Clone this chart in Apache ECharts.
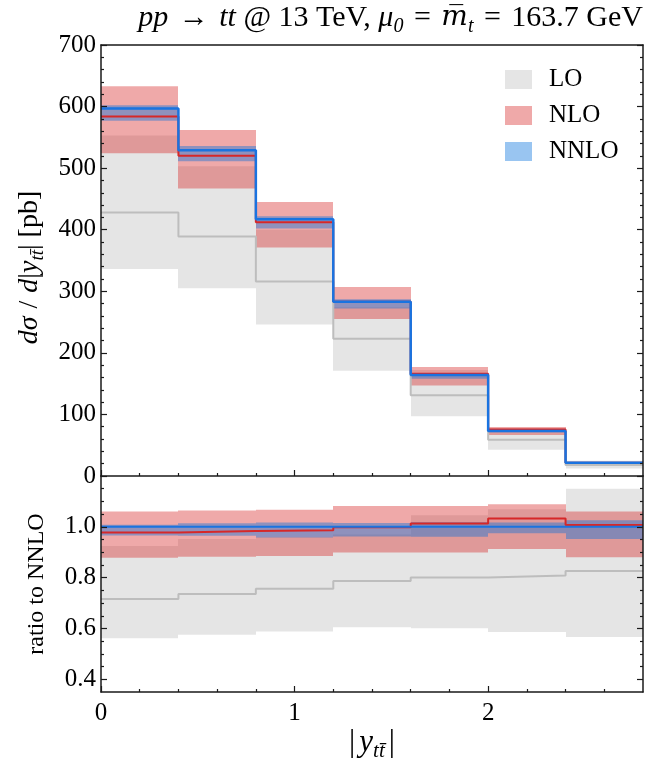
<!DOCTYPE html>
<html>
<head>
<meta charset="utf-8">
<script src="https://cdn.jsdelivr.net/npm/echarts@6/dist/echarts.min.js"></script>
<style>
  html, body { margin: 0; padding: 0; background: #ffffff; }
  #chart { width: 647px; height: 767px; }
</style>
</head>
<body>
<div id="chart"></div>
<script>
// Bin edges in |y_tt|
const binEdges = [0, 0.4, 0.8, 1.2, 1.6, 2.0, 2.4, 2.8];
const xMajorTicks = [0, 1, 2];
const xMinorTicks = [0.2, 0.4, 0.6, 0.8, 1.2, 1.4, 1.6, 1.8, 2.2, 2.4, 2.6];
const ratioMajorTicks = [0.4, 0.6, 0.8, 1.0];
const ratioMinorTicks = [0.45, 0.5, 0.55, 0.65, 0.7, 0.75, 0.85, 0.9, 0.95, 1.05, 1.1, 1.15];

// Differential cross section per bin [pb]
const loCentral   = [428, 389, 316, 223, 131, 59.0, 17.8];
const loUpper     = [553, 503, 400, 274, 172, 78.0, 24.7];
const loLower     = [336, 305, 246, 171, 97.0, 42.5, 12.2];
const nloCentral  = [584, 520, 412, 283, 166, 75.4, 21.7];
const nloUpper    = [633, 562, 445, 307, 177, 79.5, 22.8];
const nloLower    = [524, 467, 371, 255, 147, 66.6, 18.9];
const nnloCentral = [597, 529, 417, 283, 164, 73.0, 21.5];
const nnloUpper   = [602, 536, 422, 287, 167, 74.2, 22.1];
const nnloLower   = [577, 511, 402, 272, 158, 71.2, 20.5];

// Ratios to the NNLO central value
const loRatio       = [0.716, 0.736, 0.756, 0.787, 0.801, 0.808, 0.826];
const loRatioUp     = [0.925, 0.952, 0.960, 0.970, 1.046, 1.069, 1.150];
const loRatioDown   = [0.562, 0.575, 0.588, 0.605, 0.601, 0.586, 0.566];
const nloRatio      = [0.978, 0.984, 0.987, 0.998, 1.013, 1.033, 1.007];
const nloRatioUp    = [1.060, 1.064, 1.067, 1.082, 1.082, 1.089, 1.060];
const nloRatioDown  = [0.878, 0.882, 0.885, 0.899, 0.899, 0.913, 0.880];
const nnloRatio     = [1, 1, 1, 1, 1, 1, 1];
const nnloRatioUp   = [1.008, 1.014, 1.017, 1.015, 1.018, 1.017, 1.026];
const nnloRatioDown = [0.966, 0.965, 0.958, 0.962, 0.961, 0.975, 0.952];

const FONT = 'Liberation Serif';
const AXIS_COLOR = '#1a1a1a';
const COLORS = {
  loBand: 'rgba(0,0,0,0.10)',
  nloBand: 'rgba(214,39,40,0.40)',
  nnloBand: 'rgba(0,110,220,0.40)',
  loLine: '#bdbdbd',
  nloLine: '#d62728',
  nnloLine: '#1a73e0'
};

// Scale-band drawn as one rectangle per bin (x snapped to whole pixels so adjacent bins join cleanly)
function bandSeries(name, lower, upper, color, xi, yi) {
  const data = lower.map((v, i) => [binEdges[i], binEdges[i + 1], v, upper[i]]);
  return {
    type: 'custom', name: name, xAxisIndex: xi, yAxisIndex: yi, data: data,
    itemStyle: { color: color }, silent: true, clip: true, z: 2,
    encode: { x: [0, 1], y: [2, 3] },
    renderItem: function (params, api) {
      const p0 = api.coord([api.value(0), api.value(3)]);
      const p1 = api.coord([api.value(1), api.value(2)]);
      const x0 = Math.round(p0[0]), x1 = Math.round(p1[0]);
      return {
        type: 'rect',
        shape: { x: x0, y: p0[1], width: x1 - x0, height: p1[1] - p0[1] },
        style: { fill: color }
      };
    }
  };
}

// Central value drawn as a histogram step line
function stepSeries(name, vals, color, width, xi, yi, z) {
  const data = binEdges.map((x, i) => [x, vals[Math.min(i, vals.length - 1)]]);
  return {
    type: 'line', name: name, step: 'end', data: data, symbol: 'none',
    lineStyle: { color: color, width: width }, xAxisIndex: xi, yAxisIndex: yi,
    silent: true, clip: true, z: z
  };
}

const lineStyle = { color: AXIS_COLOR, width: 1.5 };
const tickStyle = { color: AXIS_COLOR, width: 1.2 };

function frameAxis(extra) {
  return Object.assign({
    type: 'value', splitLine: { show: false },
    axisLine: { show: true, onZero: false, lineStyle: lineStyle },
    axisTick: { show: false }, axisLabel: { show: false }, z: 10
  }, extra);
}
function tickAxis(extra, values, len) {
  return Object.assign({
    type: 'value', splitLine: { show: false },
    axisLine: { show: false, onZero: false },
    axisTick: { show: true, inside: true, length: len, customValues: values, lineStyle: tickStyle },
    axisLabel: { show: false }, z: 10
  }, extra);
}

// Rich-text styles for the math-style labels
function mathRich(size, subSize, gap) {
  return {
    r: { fontFamily: FONT, fontSize: size, fontStyle: 'normal', lineHeight: size + 7, fill: '#000' },
    i: { fontFamily: FONT, fontSize: size, fontStyle: 'italic', lineHeight: size + 7, fill: '#000' },
    s: { fontFamily: FONT, fontSize: subSize, fontStyle: 'italic', lineHeight: subSize, verticalAlign: 'bottom', fill: '#000' },
    m: { fontFamily: 'DejaVu Serif', fontSize: size - 2, fontStyle: 'italic', lineHeight: size + 7, fill: '#000' },
    g: { fontFamily: FONT, fontSize: size, lineHeight: size + 7, width: gap }
  };
}

const xRange = { min: 0, max: 2.8 };

const option = {
  animation: false,
  backgroundColor: '#ffffff',
  textStyle: { fontFamily: FONT },
  grid: [
    { left: 101, top: 45, width: 542, height: 431 },
    { left: 101, top: 476, width: 542, height: 216 }
  ],
  legend: {
    data: ['LO', 'NLO', 'NNLO'],
    orient: 'vertical', left: 500, top: 62,
    itemWidth: 27, itemHeight: 19, itemGap: 11, icon: 'rect',
    selectedMode: false,
    textStyle: { fontFamily: FONT, fontSize: 25, lineHeight: 25, color: '#000', padding: [0, 0, 0, 12] }
  },
  xAxis: [
    frameAxis(Object.assign({ gridIndex: 0, position: 'bottom' }, xRange)),
    tickAxis(Object.assign({ gridIndex: 0, position: 'bottom' }, xRange), xMajorTicks, 6),
    tickAxis(Object.assign({ gridIndex: 0, position: 'bottom' }, xRange), xMinorTicks, 3),
    frameAxis(Object.assign({ gridIndex: 0, position: 'top' }, xRange)),
    frameAxis(Object.assign({
      gridIndex: 1, position: 'bottom',
      axisTick: { show: true, inside: true, length: 6, customValues: xMajorTicks, lineStyle: tickStyle },
      axisLabel: { show: true, customValues: xMajorTicks, fontFamily: FONT, fontSize: 25, color: '#000', margin: 9 },
      name: '{r||}{g|}{i|y}{s|tt\u0304}{g|}{r||}',
      nameLocation: 'middle', nameGap: 32,
      nameTextStyle: { fontFamily: FONT, fontSize: 31, color: '#000', rich: mathRich(31, 21, 4) }
    }, xRange)),
    tickAxis(Object.assign({ gridIndex: 1, position: 'bottom' }, xRange), xMinorTicks, 3)
  ],
  yAxis: [
    frameAxis({
      gridIndex: 0, position: 'left', min: 0, max: 700, interval: 100,
      axisTick: { show: true, inside: true, length: 6, lineStyle: tickStyle },
      minorTick: { show: true, splitNumber: 5, length: 3, lineStyle: tickStyle },
      axisLabel: { show: true, fontFamily: FONT, fontSize: 25, color: '#000', margin: 5 },
      name: '{i|d\u03c3}{g|}{r|/}{g|}{i|d}{r||}{i|y}{s|tt\u0304}{r||} {r|[pb]}',
      nameLocation: 'middle', nameRotate: 90, nameGap: 50,
      nameTextStyle: { fontFamily: FONT, fontSize: 28, color: '#000', rich: mathRich(28, 19, 8), padding: [0, 14, 0, 0] }
    }),
    frameAxis({
      gridIndex: 0, position: 'right', min: 0, max: 700, interval: 100,
      axisTick: { show: true, inside: true, length: 6, lineStyle: tickStyle },
      minorTick: { show: true, splitNumber: 5, length: 3, lineStyle: tickStyle }
    }),
    frameAxis({
      gridIndex: 1, position: 'left', min: 0.35, max: 1.2,
      axisTick: { show: true, inside: true, length: 6, customValues: ratioMajorTicks, lineStyle: tickStyle },
      axisLabel: {
        show: true, customValues: ratioMajorTicks, fontFamily: FONT, fontSize: 25, color: '#000', margin: 5,
        formatter: function (v) { return v.toFixed(1); }
      },
      name: 'ratio to NNLO', nameLocation: 'middle', nameRotate: 90, nameGap: 52,
      nameTextStyle: { fontFamily: FONT, fontSize: 24, color: '#000' }
    }),
    tickAxis({ gridIndex: 1, position: 'left', min: 0.35, max: 1.2 }, ratioMinorTicks, 3),
    frameAxis({
      gridIndex: 1, position: 'right', min: 0.35, max: 1.2,
      axisTick: { show: true, inside: true, length: 6, customValues: ratioMajorTicks, lineStyle: tickStyle }
    }),
    tickAxis({ gridIndex: 1, position: 'right', min: 0.35, max: 1.2 }, ratioMinorTicks, 3)
  ],
  graphic: [{
    type: 'text', right: 4, top: 3, z: 20,
    style: {
      text: '{i|pp}{g|}{r| \u2192 }{g|}{i|tt}{r| @ 13 TeV, }{i|\u03bc}{s|0}{g|}{r| = }{g|}{m|m\u0305}{s|t}{g|}{r| = }{g|}{r|163.7 GeV}',
      rich: mathRich(30, 20, 3), fontFamily: FONT, fontSize: 30, fill: '#000'
    }
  }],
  series: [
    bandSeries('LO', loLower, loUpper, COLORS.loBand, 0, 0),
    bandSeries('NLO', nloLower, nloUpper, COLORS.nloBand, 0, 0),
    bandSeries('NNLO', nnloLower, nnloUpper, COLORS.nnloBand, 0, 0),
    stepSeries('LO central', loCentral, COLORS.loLine, 2, 0, 0, 3),
    stepSeries('NLO central', nloCentral, COLORS.nloLine, 2, 0, 0, 4),
    stepSeries('NNLO central', nnloCentral, COLORS.nnloLine, 2.5, 0, 0, 5),

    bandSeries('LO ratio', loRatioDown, loRatioUp, COLORS.loBand, 4, 2),
    bandSeries('NLO ratio', nloRatioDown, nloRatioUp, COLORS.nloBand, 4, 2),
    bandSeries('NNLO ratio', nnloRatioDown, nnloRatioUp, COLORS.nnloBand, 4, 2),
    stepSeries('LO ratio central', loRatio, COLORS.loLine, 2, 4, 2, 3),
    stepSeries('NLO ratio central', nloRatio, COLORS.nloLine, 2, 4, 2, 4),
    stepSeries('NNLO ratio central', nnloRatio, COLORS.nnloLine, 2, 4, 2, 5)
  ]
};

const chart = echarts.init(document.getElementById('chart'), null, { renderer: 'canvas' });
chart.setOption(option);
</script>
</body>
</html>
